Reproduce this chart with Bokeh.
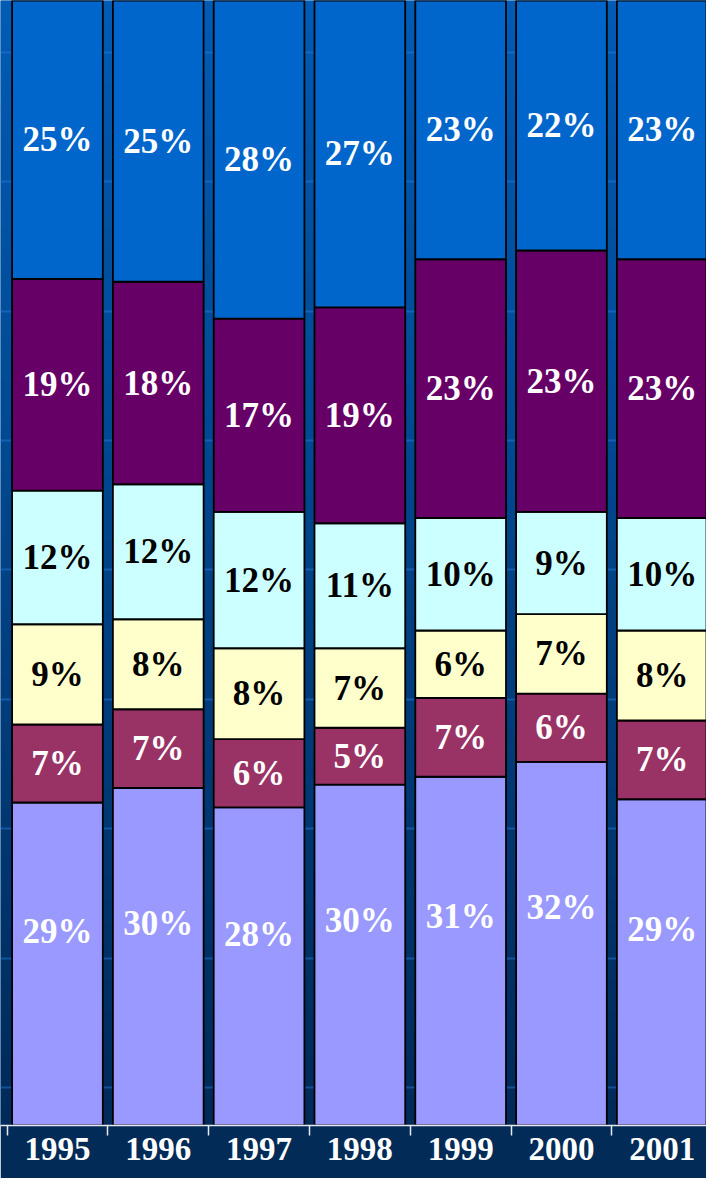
import numpy as np
from bokeh.plotting import figure
from bokeh.models import ColumnDataSource, FixedTicker, Grid, LinearAxis, Range1d
from bokeh.core.properties import value
from bokeh.embed import file_html
from bokeh.resources import INLINE

# ---- data (percent labels) ----
years = ["1995", "1996", "1997", "1998", "1999", "2000", "2001"]
series_names = ["Series 1", "Series 2", "Series 3", "Series 4", "Series 5", "Series 6"]  # bottom -> top
s1 = [29, 30, 28, 30, 31, 32, 29]   # lavender (bottom)
s2 = [7, 7, 6, 5, 7, 6, 7]          # maroon
s3 = [9, 8, 8, 7, 6, 7, 8]          # light yellow
s4 = [12, 12, 12, 11, 10, 9, 10]    # light cyan
s5 = [19, 18, 17, 19, 23, 23, 23]   # purple
s6 = [25, 25, 28, 27, 23, 22, 23]   # blue (top)

# ---- styles ----
fill_colors = ["#9999ff", "#993366", "#ffffcc", "#ccffff", "#660066", "#0066cc"]
text_colors = ["white", "white", "black", "black", "white", "white"]
label_frac = [0.6, 0.5, 0.5, 0.5, 0.5, 0.5]
FONT = value("Liberation Serif")
X0, X1 = -0.5651, 6.439

vals = np.array([s1, s2, s3, s4, s5, s6], dtype=float)
shares = vals / vals.sum(axis=0) * 100.0
tops = np.cumsum(shares, axis=0)
bottoms = tops - shares
xs = np.arange(len(years))

p = figure(width=706, height=1178, output_backend="svg", toolbar_location=None,
           x_range=Range1d(X0, X1), y_range=Range1d(0, 100),
           x_axis_location=None, y_axis_location=None,
           min_border_left=0, min_border_right=0, min_border_top=0, min_border_bottom=53,
           border_fill_color="#022b57", background_fill_color="#004a94",
           outline_line_color=None)
p.grid.visible = False

# background vertical gradient in the plot frame
n = 256
t = np.linspace(0, 1, n)[:, None]          # 0 at bottom, 1 at top
top_c = np.array([0, 92, 182])
bot_c = np.array([0, 42, 88])
rgb = (bot_c + (top_c - bot_c) * t).astype(np.uint32)
img = np.empty((n, 1), dtype=np.uint32)
view = img.view(dtype=np.uint8).reshape((n, 1, 4))
view[:, 0, 0] = rgb[:, 0]
view[:, 0, 1] = rgb[:, 1]
view[:, 0, 2] = rgb[:, 2]
view[:, 0, 3] = 255
p.image_rgba(image=[img], x=X0, y=0, dw=X1 - X0, dh=100, level="image")

# faint horizontal grid lines
grid_ticks = [3.38 + 11.5 * k for k in range(9)]
p.add_layout(Grid(dimension=1, ticker=FixedTicker(ticks=grid_ticks),
                  grid_line_color="#2a7fe0", grid_line_alpha=0.45, grid_line_width=2))

# stacked bars
for i in range(len(series_names)):
    p.vbar(x=xs, bottom=bottoms[i], top=tops[i], width=0.9,
           fill_color=fill_colors[i], line_color="black", line_width=1.8)

# segment labels
for i in range(len(series_names)):
    src = ColumnDataSource(dict(
        x=xs, y=bottoms[i] + shares[i] * label_frac[i],
        t=[f"{int(v)}%" for v in vals[i]]))
    p.text(x="x", y="y", text="t", source=src, text_align="center", text_baseline="middle",
           text_font=FONT, text_font_style="bold", text_font_size="35px",
           text_color=text_colors[i])

# x axis: year labels at bar centres, tick marks at category boundaries
xaxis = LinearAxis(ticker=FixedTicker(ticks=list(xs),
                                      minor_ticks=[k - 0.5 for k in range(len(years) + 1)]),
                   major_label_overrides={int(k): y for k, y in zip(xs, years)},
                   major_tick_line_color=None, major_tick_in=0, major_tick_out=10,
                   minor_tick_in=0, minor_tick_out=10,
                   minor_tick_line_color="#e8e8f0", minor_tick_line_width=1.5,
                   axis_line_color="#e8e8f0", axis_line_width=1.5,
                   major_label_standoff=2,
                   major_label_text_font="Liberation Serif", major_label_text_font_style="bold",
                   major_label_text_font_size="33px", major_label_text_color="white")
p.add_layout(xaxis, "below")

open("out.html", "w").write(file_html(p, INLINE))
